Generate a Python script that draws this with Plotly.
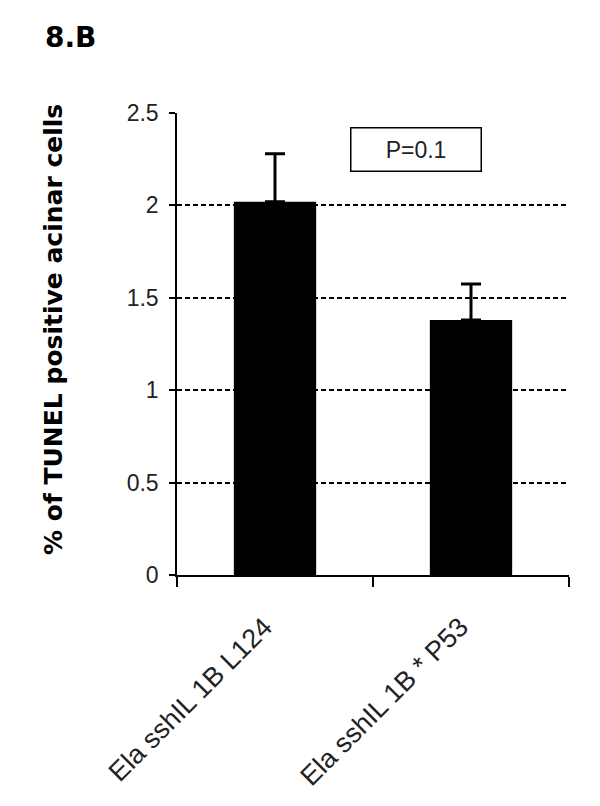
import plotly.graph_objects as go

categories = ["Ela sshIL 1B L124", "Ela sshIL 1B * P53"]
means = [2.02, 1.38]
errors = [0.26, 0.195]
y_ticks = [0, 0.5, 1, 1.5, 2, 2.5]
y_tick_labels = ["0", "0.5", "1", "1.5", "2", "2.5"]
p_text = "P=0.1"
panel = "8.B"
y_title = "% of TUNEL positive acinar cells"

# the page body adds an 8px offset; margins compensate for it
OFF = 8
L, T, PW, PH = 177 - OFF, 113 - OFF, 392, 462

fig = go.Figure()
fig.add_trace(go.Bar(
    x=categories, y=means, width=0.42,
    marker=dict(color="black", line=dict(width=0)),
    error_y=dict(type="data", array=errors, symmetric=False, arrayminus=[0, 0],
                 color="black", thickness=3, width=10),
))

fig.update_layout(
    width=600, height=806,
    margin=dict(l=L, r=600 - L - PW, t=T, b=806 - T - PH),
    plot_bgcolor="white", paper_bgcolor="white",
    showlegend=False,
    font=dict(family="Liberation Sans, Arial", size=23, color="#222"),
    title=dict(text="<b>" + panel + "</b>", xref="container", yref="container",
               x=(45 - OFF) / 600, xanchor="left", y=1 - (37 - OFF) / 806, yanchor="middle",
               font=dict(family="DejaVu Sans", size=28, color="black")),
)
fig.update_xaxes(
    showline=True, linecolor="black", linewidth=1.5,
    ticks="outside", tickson="boundaries", ticklen=10, tickcolor="black", tickwidth=1.5,
    tickangle=-45, showgrid=False, ticklabelstandoff=13,
    tickvals=categories, ticktext=[c + "\u00a0\u00a0" for c in categories],
    tickfont=dict(size=27, color="#222"),
)
fig.update_yaxes(
    range=[0, 2.5], tickvals=y_ticks, ticktext=y_tick_labels,
    showline=True, linecolor="black", linewidth=1.5,
    ticks="outside", ticklen=6, tickcolor="black", tickwidth=1.5,
    ticklabelstandoff=6,
    showgrid=True, gridcolor="black", gridwidth=1.5, griddash="5px,3px",
    zeroline=False,
    tickfont=dict(size=23, color="#222"),
)
fig.add_annotation(
    x=0.717, y=2.30, xref="x", yref="y", text=p_text, showarrow=False,
    font=dict(size=23, color="#222"), width=125, height=38,
    bordercolor="black", borderwidth=1.5, borderpad=2, bgcolor="white",
)
fig.add_annotation(
    x=(53 - 177) / PW, y=(575 - 330) / PH, xref="paper", yref="paper",
    text="<b>" + y_title + "</b>", textangle=-90, showarrow=False,
    font=dict(family="DejaVu Sans", size=25, color="black"),
    xanchor="center", yanchor="middle",
)
fig.write_html("out.html")
